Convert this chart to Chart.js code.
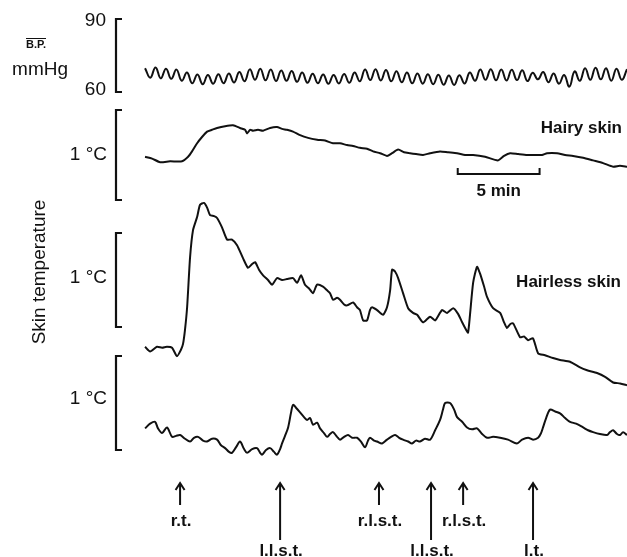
<!DOCTYPE html>
<html lang="en">
<head>
  <meta charset="UTF-8">
  <title>Skin temperature and B.P.</title>
  <script src="https://cdn.jsdelivr.net/npm/chart.js"></script>
  <style>
    body { margin: 0; background: #fff; }
    canvas { display: block; }
  </style>
</head>
<body>
  <canvas id="traces" width="627" height="557"></canvas>

  <script>
    // mean blood pressure (mmHg), read crest / trough, one sample every bpStep min
    const bpStep = 0.32;
    const bpValues = [
      69.8, 65.9, 70.1, 65.6, 69.6, 65.4, 69.2, 64.6, 68.0, 63.6,
      67.2, 63.2, 67.0, 63.4, 67.3, 63.6, 67.6, 63.9, 68.2, 64.4,
      69.3, 65.0, 69.6, 64.8, 69.2, 64.5, 68.8, 64.6, 68.6, 64.2,
      68.0, 63.8, 67.5, 63.6, 67.2, 63.4, 67.0, 63.5, 67.4, 63.8,
      68.0, 64.4, 69.2, 64.9, 69.4, 64.7, 69.0, 64.4, 68.5, 64.0,
      68.0, 63.6, 67.6, 63.4, 67.3, 63.2, 67.1, 63.0, 66.8, 62.9,
      66.9, 63.5, 68.0, 64.6, 69.2, 65.0, 69.4, 64.8, 69.2, 64.7,
      69.1, 64.9, 68.9, 64.5, 67.9, 65.2, 68.2, 64.0, 67.6, 63.4,
      67.0, 62.2, 68.5, 64.6, 69.8, 65.0, 70.0, 65.2, 69.8, 64.6,
      69.6, 65.0, 69.4
    ];

    // hairy skin, minutes and °C above bracket base
    const hairyMin = [0, 0.43, 0.92, 1.53, 2.26, 2.63, 2.87, 3.18, 3.48, 3.79,
      4.09, 4.40, 4.89, 5.38, 5.80, 6.11, 6.23, 6.41, 6.60, 6.90,
      7.21, 7.64, 8.06, 8.37, 8.67, 9.04, 9.47, 9.96, 10.51, 11.00,
      11.48, 11.91, 12.34, 12.71, 13.13, 13.56, 13.93, 14.36, 14.78, 15.09,
      15.46, 15.82, 16.19, 16.55, 16.98, 17.41, 18.02, 18.51, 19.06, 19.55,
      20.04, 20.77, 21.56, 21.93, 22.30, 22.79, 23.34, 23.82, 24.25, 24.56,
      25.17, 25.66, 26.15, 26.76, 27.37, 27.98, 28.59, 29.01, 29.44];
    const hairyTemp = [0.48, 0.46, 0.42, 0.43, 0.43, 0.48, 0.54, 0.63, 0.70, 0.76,
      0.78, 0.80, 0.82, 0.83, 0.80, 0.78, 0.74, 0.78, 0.77, 0.78,
      0.77, 0.80, 0.81, 0.79, 0.78, 0.76, 0.72, 0.69, 0.67, 0.66,
      0.63, 0.63, 0.61, 0.60, 0.58, 0.57, 0.54, 0.52, 0.49, 0.52,
      0.56, 0.53, 0.52, 0.51, 0.50, 0.52, 0.54, 0.53, 0.52, 0.50,
      0.50, 0.48, 0.44, 0.49, 0.52, 0.51, 0.50, 0.50, 0.50, 0.52,
      0.52, 0.50, 0.49, 0.47, 0.44, 0.41, 0.37, 0.38, 0.37];

    // hairless skin
    const hairlessMin = [0, 0.31, 0.73, 1.04, 1.34, 1.65, 1.95, 2.20, 2.32, 2.44,
      2.57, 2.75, 2.93, 3.18, 3.36, 3.60, 3.79, 3.97, 4.22, 4.40,
      4.70, 5.01, 5.31, 5.62, 5.99, 6.29, 6.54, 6.72, 6.96, 7.21,
      7.51, 7.76, 8.06, 8.37, 8.67, 9.04, 9.29, 9.53, 9.77, 10.02,
      10.26, 10.51, 10.87, 11.12, 11.30, 11.48, 11.73, 11.91, 12.16, 12.34,
      12.71, 12.95, 13.13, 13.32, 13.56, 13.74, 13.87, 14.17, 14.54, 14.78,
      14.97, 15.09, 15.27, 15.46, 15.76, 16.07, 16.37, 16.62, 16.98, 17.41,
      17.72, 18.14, 18.45, 18.82, 19.12, 19.37, 19.61, 19.73, 19.85, 20.04,
      20.28, 20.46, 20.71, 20.89, 21.26, 21.69, 21.93, 22.11, 22.30, 22.48,
      22.91, 23.15, 23.40, 23.70, 24.01, 24.43, 24.92, 25.35, 25.96, 26.57,
      27.00, 27.61, 28.10, 28.59, 29.02, 29.44];
    const hairlessTemp = [-0.21, -0.26, -0.21, -0.22, -0.21, -0.22, -0.31, -0.24, -0.18, -0.03,
      0.21, 0.74, 1.03, 1.17, 1.30, 1.32, 1.27, 1.19, 1.18, 1.16,
      1.06, 0.93, 0.93, 0.87, 0.73, 0.63, 0.67, 0.69, 0.61, 0.55,
      0.50, 0.45, 0.52, 0.50, 0.51, 0.52, 0.47, 0.55, 0.45, 0.41,
      0.36, 0.45, 0.43, 0.39, 0.36, 0.29, 0.31, 0.29, 0.24, 0.23,
      0.26, 0.21, 0.18, 0.07, 0.07, 0.18, 0.21, 0.18, 0.13, 0.21,
      0.39, 0.61, 0.59, 0.52, 0.36, 0.20, 0.15, 0.13, 0.05, 0.11,
      0.07, 0.18, 0.15, 0.20, 0.14, 0.05, -0.03, -0.06, 0.13, 0.47,
      0.64, 0.57, 0.43, 0.32, 0.20, 0.15, 0.05, -0.01, 0.03, 0.04,
      -0.11, -0.10, -0.14, -0.12, -0.28, -0.30, -0.33, -0.35, -0.37, -0.43,
      -0.46, -0.49, -0.53, -0.59, -0.60, -0.62];

    // lowest trace
    const lowerMin = [0, 0.31, 0.61, 0.79, 1.04, 1.34, 1.65, 1.89, 2.14, 2.44,
      2.75, 2.99, 3.24, 3.54, 3.79, 4.09, 4.40, 4.64, 4.89, 5.13,
      5.31, 5.56, 5.80, 6.05, 6.23, 6.54, 6.84, 7.03, 7.15, 7.39,
      7.64, 7.88, 8.06, 8.25, 8.37, 8.55, 8.74, 8.92, 9.04, 9.22,
      9.47, 9.71, 9.90, 10.08, 10.26, 10.51, 10.69, 10.93, 11.12, 11.30,
      11.48, 11.73, 11.91, 12.16, 12.40, 12.65, 12.95, 13.19, 13.44, 13.62,
      13.74, 13.99, 14.17, 14.48, 14.78, 15.03, 15.27, 15.52, 15.76, 16.07,
      16.31, 16.55, 16.80, 17.10, 17.41, 17.72, 18.02, 18.20, 18.33, 18.63,
      18.88, 19.06, 19.37, 19.67, 19.98, 20.28, 20.59, 20.89, 21.26, 21.69,
      22.17, 22.72, 23.03, 23.40, 23.70, 24.01, 24.19, 24.31, 24.50, 24.74,
      25.05, 25.35, 25.66, 25.96, 26.33, 26.76, 27.06, 27.37, 27.79, 28.22,
      28.40, 28.59, 28.83, 29.02, 29.20, 29.44];
    const lowerTemp = [0.23, 0.28, 0.30, 0.23, 0.18, 0.24, 0.14, 0.15, 0.16, 0.12,
      0.09, 0.13, 0.14, 0.10, 0.09, 0.12, 0.11, 0.05, 0.02, -0.02,
      -0.03, 0.03, 0.09, 0.01, -0.03, 0.01, 0.02, -0.03, -0.05, 0.00,
      0.02, -0.02, -0.05, 0.01, 0.07, 0.15, 0.24, 0.40, 0.48, 0.45,
      0.40, 0.35, 0.32, 0.34, 0.27, 0.29, 0.23, 0.18, 0.14, 0.17,
      0.19, 0.14, 0.11, 0.14, 0.16, 0.13, 0.13, 0.09, 0.03, 0.10,
      0.13, 0.10, 0.09, 0.07, 0.11, 0.14, 0.16, 0.13, 0.11, 0.09,
      0.07, 0.10, 0.09, 0.12, 0.11, 0.21, 0.32, 0.43, 0.50, 0.50,
      0.43, 0.35, 0.30, 0.24, 0.22, 0.23, 0.17, 0.13, 0.14, 0.13,
      0.11, 0.07, 0.11, 0.13, 0.11, 0.13, 0.18, 0.24, 0.34, 0.43,
      0.41, 0.39, 0.34, 0.30, 0.28, 0.24, 0.21, 0.19, 0.17, 0.16,
      0.19, 0.21, 0.17, 0.16, 0.19, 0.16];

    // stimuli (minutes)
    const stimulusMin = [2.14, 8.25, 14.29, 17.47, 19.43, 23.70];
    const stimulusLabels = ['r.t.', 'l.l.s.t.', 'r.l.s.t.', 'l.l.s.t.', 'r.l.s.t.', 'l.t.'];
    const scaleBarMin = [19.1, 24.1];

    const H = 557;
    // value range of a hidden axis so that vTop sits at pixel pTop and vBot at pBot
    function span(vTop, pTop, vBot, pBot) {
      const k = (vTop - vBot) / (pBot - pTop);
      const max = vTop + pTop * k;
      return { min: max - H * k, max: max };
    }

    const pts = (xs, ys) => xs.map((x, i) => ({ x: x, y: ys[i] }));
    const bpPts = bpValues.map((v, i) => ({ x: i * bpStep, y: v }));

    const font = '"Liberation Sans", Arial, sans-serif';
    const ink = '#111';

    const overlay = {
      id: 'overlay',
      afterDatasetsDraw(chart) {
        const c = chart.ctx, s = chart.scales, x = s.x;
        c.save();
        c.strokeStyle = ink;
        c.fillStyle = ink;
        c.lineWidth = 2.2;
        c.lineCap = 'butt';

        function bracket(axis, top, bot) {
          const y1 = s[axis].getPixelForValue(top), y2 = s[axis].getPixelForValue(bot);
          c.beginPath();
          c.moveTo(122, y1); c.lineTo(116, y1); c.lineTo(116, y2); c.lineTo(122, y2);
          c.stroke();
        }
        bracket('yBP', 90, 60);
        bracket('yHairy', 1, 0);
        bracket('yHairless', 1, 0);
        bracket('yLower', 1, 0);

        c.textBaseline = 'middle';
        c.textAlign = 'right';
        c.font = '19px ' + font;
        c.fillText('90', 106, s.yBP.getPixelForValue(90) + 2);
        c.fillText('60', 106, s.yBP.getPixelForValue(60) - 2);
        c.fillText('mmHg', 68, 70);
        c.fillText('1 °C', 107, s.yHairy.getPixelForValue(0.5));
        c.fillText('1 °C', 107, s.yHairless.getPixelForValue(0.5) - 2);
        c.fillText('1 °C', 107, s.yLower.getPixelForValue(0.5) - 4);
        c.font = 'bold 11px ' + font;
        c.textAlign = 'center';
        c.fillText('B.P.', 36, 45);
        c.lineWidth = 1;
        c.beginPath(); c.moveTo(26, 38.5); c.lineTo(46, 38.5); c.stroke();

        c.font = 'bold 17px ' + font;
        c.textAlign = 'right';
        c.fillText('Hairy skin', 622, 128);
        c.fillText('Hairless skin', 621, 282);

        c.save();
        c.translate(40, 272);
        c.rotate(-Math.PI / 2);
        c.textAlign = 'center';
        c.font = '19px ' + font;
        c.fillText('Skin temperature', 0, 0);
        c.restore();

        // 5 min scale bar
        const bx1 = x.getPixelForValue(scaleBarMin[0]), bx2 = x.getPixelForValue(scaleBarMin[1]);
        const by = 174;
        c.lineWidth = 2;
        c.beginPath();
        c.moveTo(bx1, by - 6); c.lineTo(bx1, by); c.lineTo(bx2, by); c.lineTo(bx2, by - 6);
        c.stroke();
        c.textAlign = 'center';
        c.font = 'bold 17px ' + font;
        c.fillText('5 min', (bx1 + bx2) / 2, 191);

        // stimulus arrows
        stimulusMin.forEach((t, i) => {
          const ax = x.getPixelForValue(t);
          const long = stimulusLabels[i].charAt(0) === 'l';
          const bottom = long ? 540 : 505;
          c.lineWidth = 2;
          c.beginPath();
          c.moveTo(ax, 483); c.lineTo(ax, bottom);
          c.moveTo(ax - 4.5, 490); c.lineTo(ax, 483); c.lineTo(ax + 4.5, 490);
          c.stroke();
          c.font = 'bold 17px ' + font;
          c.fillText(stimulusLabels[i], ax + 1, long ? 551 : 521);
        });
        c.restore();
      }
    };

    const line = (data, axis, tension) => ({
      data: data, yAxisID: axis,
      borderColor: ink, borderWidth: 2, tension: tension,
      pointRadius: 0, fill: false
    });

    new Chart(document.getElementById('traces').getContext('2d'), {
      type: 'line',
      data: {
        datasets: [
          line(bpPts, 'yBP', 0.45),
          line(pts(hairyMin, hairyTemp), 'yHairy', 0.2),
          line(pts(hairlessMin, hairlessTemp), 'yHairless', 0.2),
          line(pts(lowerMin, lowerTemp), 'yLower', 0.3)
        ]
      },
      options: {
        responsive: false,
        animation: false,
        layout: { padding: 0, autoPadding: false },
        plugins: { legend: { display: false }, tooltip: { enabled: false } },
        scales: {
          x: { type: 'linear', display: false, min: -8.86, max: 29.44 },
          yBP: Object.assign({ display: false }, span(90, 19, 60, 92)),
          yHairy: Object.assign({ display: false }, span(1, 110, 0, 200)),
          yHairless: Object.assign({ display: false }, span(1, 233, 0, 327)),
          yLower: Object.assign({ display: false }, span(1, 356, 0, 450))
        }
      },
      plugins: [overlay]
    });
  </script>
</body>
</html>
